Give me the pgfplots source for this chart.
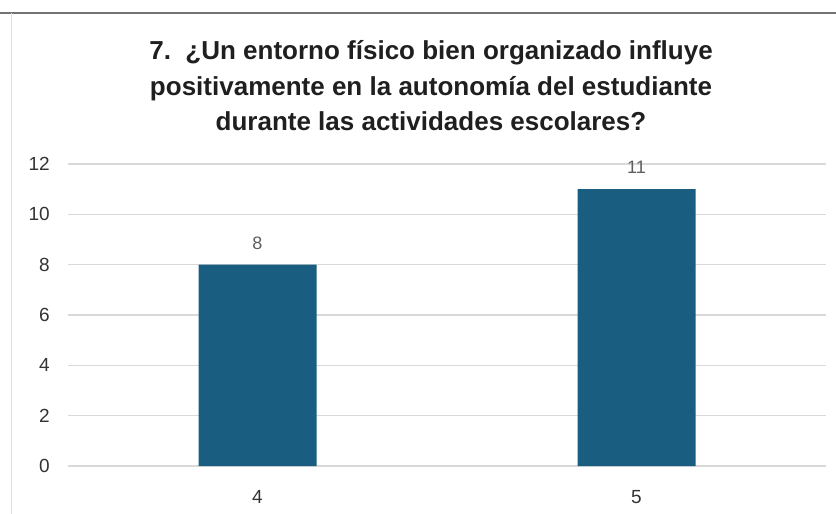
\documentclass[border=0pt]{standalone}
\usepackage{fontspec}
\setmainfont{Liberation Sans}
\usepackage{pgfplots}
\pgfplotsset{compat=1.18}
\definecolor{barblue}{HTML}{195D80}
\definecolor{gridgray}{HTML}{D9D9D9}
\definecolor{ticktext}{HTML}{333333}
\definecolor{valtext}{HTML}{5E5E5E}
\begin{document}
\begin{tikzpicture}[x=1pt,y=1pt]
\path[use as bounding box] (0,0) rectangle (836,-514);
\draw[black!55, line width=1.2pt] (0,-13) -- (836,-13);
\draw[black!12, line width=1pt] (11,-13) -- (11,-514);
\node[font=\bfseries\fontsize{26}{35.5}\selectfont, text=black!88, align=center] at (431,-86)
  {7.~~¿Un entorno físico bien organizado influye\\
   positivamente en la autonomía del estudiante\\
   durante las actividades escolares?};
\begin{axis}[
    at={(68pt,-466pt)}, anchor=south west,
    scale only axis, width=758pt, height=302pt,
    xmin=-0.5, xmax=1.5, ymin=0, ymax=12,
    ytick={0,2,...,12}, xtick={0,1}, xticklabels={4,5},
    ymajorgrids, grid style={gridgray, line width=1.2pt},
    axis line style={draw=none}, major tick length=0pt,
    ybar, bar width=118pt, clip=false,
    /pgf/number format/assume math mode=true,
    ticklabel style={font=\fontsize{19}{22}\selectfont, text=ticktext},
    yticklabel style={anchor=east, inner sep=0pt, xshift=-18pt},
    xticklabel style={anchor=center, inner sep=0pt, yshift=-31pt},
    nodes near coords,
    every node near coord/.append style={font=\fontsize{18}{21}\selectfont, text=valtext, inner sep=0pt, anchor=south, yshift=15pt},
]
\addplot[fill=barblue, draw=none] coordinates {(0,8) (1,11)};
\end{axis}
\end{tikzpicture}
\end{document}
